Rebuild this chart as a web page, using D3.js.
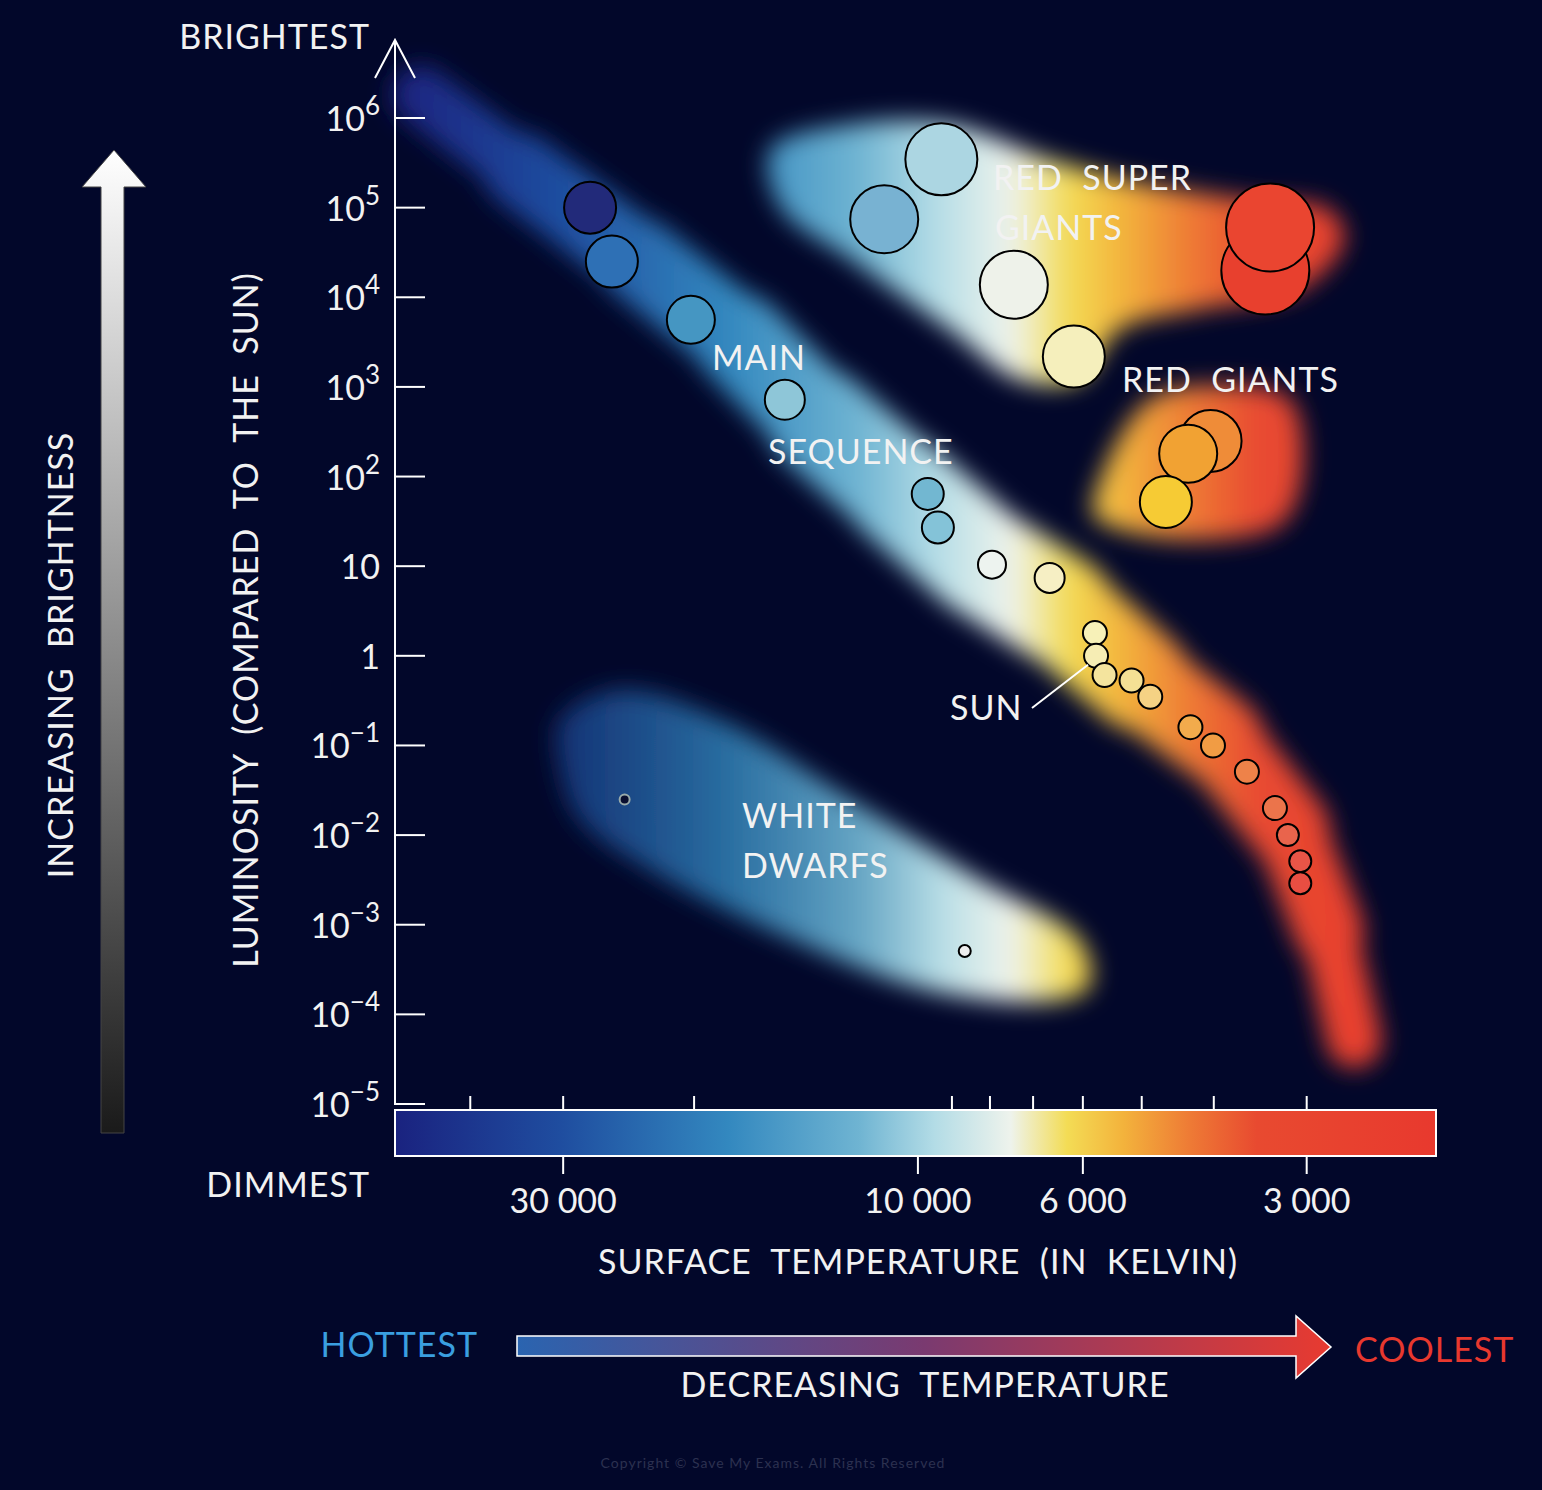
<!DOCTYPE html>
<html>
<head>
<meta charset="utf-8">
<script src="https://cdn.jsdelivr.net/npm/d3@7"></script>
<style>
  body { margin: 0; background: #02072a; }
  svg text { font-family: Lato, "Open Sans", sans-serif; fill: #f2f2f2; }
</style>
</head>
<body>
<svg id="chart" width="1542" height="1490"></svg>
<script>
// luminosity ticks (exponent of 10)
const lumTicks = [6, 5, 4, 3, 2, 1, 0, -1, -2, -3, -4, -5];
// temperature ticks
const tempMajor = [30000, 10000, 6000, 3000];
const tempMinor = [40000, 30000, 20000, 9000, 8000, 7000, 6000, 5000, 4000, 3000];
const tempLabels = ["30 000", "10 000", "6 000", "3 000"];

// colour of star light by temperature
const colourTemps = [50000, 30000, 18000, 12000, 9500, 7500, 6300, 5300, 4300, 3500, 2000];
const colourStops = ["#1a2380", "#1f4ea0", "#3388bf", "#6fb4d2", "#b3dce6", "#eef3ec", "#f3dc55", "#f3b33c", "#ee7a35", "#e84a30", "#e8392e"];

// stars: temperature (K), luminosity (L sun), radius (px), fill
const starTemp = [27600, 25800, 20200, 15100, 9700, 9400, 7950, 6650, 5780, 5760, 5610, 5160, 4870, 4300, 4010, 3610, 3310, 3180, 3060, 3060,
  11100, 9300, 7430, 6170, 3410, 3360, 4040, 4330, 4640, 24800, 8650];
const starLum = [1e5, 25000, 5600, 720, 64, 27, 10.4, 7.4, 1.8, 1, 0.61, 0.53, 0.35, 0.16, 0.1, 0.051, 0.02, 0.01, 0.0051, 0.0029,
  74000, 346000, 13800, 2180, 19900, 60000, 250, 180, 52, 0.025, 5.1e-4];
const starR = [26, 26, 24, 20, 16, 16, 14, 15, 12, 12, 12, 12, 12, 12, 12, 12, 12, 11, 11, 11,
  34, 36, 34, 31, 44, 44, 31, 29, 26, 5, 6];
const starFill = ["#222a7a", "#2e70b5", "#4596c2", "#8ec6d8", "#72b7d1", "#84c3d8", "#edf3ef", "#f6efc4", "#f7f1b8", "#f6edb4", "#f4e49e", "#f4e094", "#f5d284", "#f2ab4c", "#f19c44", "#ee8249", "#eb744b", "#e9644c", "#e85547", "#e84e42",
  "#78b2d2", "#acd6e2", "#eef2ea", "#f5efbc", "#e8402e", "#ea4530", "#ef8c38", "#f1a233", "#f6cb34", "#0a0f30", "#eeeeee"];

// main sequence band: centre line (K, log10 L) and width
const msTemp = [46700, 34300, 23700, 17400, 13600, 10600, 8260, 6440, 5030, 3930, 3160, 2800, 2590];
const msLogL = [6.26, 5.42, 4.42, 3.53, 2.63, 1.85, 1.07, 0.51, -0.27, -0.94, -1.94, -3.06, -4.29];
const msWidth = [45, 70, 80, 85, 100, 110, 110, 110, 95, 85, 75, 65, 45];

// regions (outline in K, log10 L)
const sgTemp = [15800, 12300, 9060, 6660, 4880, 3580, 2800, 2670, 3070, 4180, 5350, 6060, 7300, 9060, 12300, 15300];
const sgLogL = [5.65, 5.93, 5.93, 5.54, 5.26, 5.09, 4.98, 4.64, 4.08, 3.86, 3.64, 3.08, 3.08, 3.64, 4.42, 5.0];
const rgTemp = [5690, 4880, 3930, 3160, 3050, 3260, 4180, 5350, 5800];
const rgLogL = [1.96, 2.86, 3.02, 2.86, 1.96, 1.46, 1.29, 1.41, 1.57];
const wdTemp = [30300, 25200, 18500, 12300, 8260, 6060, 5870, 6440, 9640, 15800, 22900, 28500, 30300];
const wdLogL = [-0.71, -0.38, -0.71, -1.61, -2.5, -3.17, -3.67, -3.84, -3.73, -3.06, -2.39, -1.83, -1.27];

const svg = d3.select("#chart");
const x = d3.scaleLog().domain([50500, 2010]).range([395, 1436]);
const y = d3.scaleLog().domain([1e-5, 1e6]).range([1104, 118]);
const ly = v => y(Math.pow(10, v));

svg.append("rect").attr("width", 1542).attr("height", 1490).attr("fill", "#02072a");

const defs = svg.append("defs");
const tempGrad = defs.append("linearGradient").attr("id", "tempGrad")
  .attr("gradientUnits", "userSpaceOnUse")
  .attr("x1", x(50500)).attr("x2", x(2010)).attr("y1", 0).attr("y2", 0);
colourTemps.forEach((t, i) => tempGrad.append("stop")
  .attr("offset", (x(t) - x(50500)) / (x(2010) - x(50500))).attr("stop-color", colourStops[i]));
defs.append("filter").attr("id", "blur").attr("x", "-20%").attr("y", "-20%").attr("width", "140%").attr("height", "140%")
  .append("feGaussianBlur").attr("stdDeviation", 12);
// fade for hot end of the white dwarf cloud
const fade = defs.append("linearGradient").attr("id", "fade")
  .attr("gradientUnits", "userSpaceOnUse")
  .attr("x1", x(30300)).attr("x2", x(9000)).attr("y1", 0).attr("y2", 0);
fade.append("stop").attr("offset", 0).attr("stop-color", "#02072a").attr("stop-opacity", 0.35);
fade.append("stop").attr("offset", 1).attr("stop-color", "#02072a").attr("stop-opacity", 0);

// glow regions
const glow = svg.append("g").attr("filter", "url(#blur)");
const line = d3.line().curve(d3.curveCatmullRomClosed);
[[sgTemp, sgLogL], [rgTemp, rgLogL], [wdTemp, wdLogL]].forEach(([ts, ls]) => {
  glow.append("path")
    .attr("d", line(ts.map((t, i) => [x(t), ly(ls[i])])))
    .attr("fill", "url(#tempGrad)");
});
glow.append("path")
  .attr("d", line(wdTemp.map((t, i) => [x(t), ly(wdLogL[i])])))
  .attr("fill", "url(#fade)");
for (let i = 0; i < msTemp.length - 1; i++) {
  glow.append("line")
    .attr("x1", x(msTemp[i])).attr("y1", ly(msLogL[i]))
    .attr("x2", x(msTemp[i + 1])).attr("y2", ly(msLogL[i + 1]))
    .attr("stroke", "url(#tempGrad)").attr("stroke-linecap", "round")
    .attr("stroke-width", (msWidth[i] + msWidth[i + 1]) / 2);
}

// stars
svg.append("g").selectAll("circle")
  .data(starTemp.map((t, i) => ({ t, l: starLum[i], r: starR[i], c: starFill[i] })))
  .join("circle")
  .attr("cx", d => x(d.t)).attr("cy", d => y(d.l)).attr("r", d => d.r)
  .attr("fill", d => d.c).attr("stroke", d => d.r < 6 && d.c === "#0a0f30" ? "#9aa" : "#000")
  .attr("stroke-width", 2);

// colour bar
svg.append("rect").attr("x", 395).attr("y", 1110).attr("width", 1041).attr("height", 46)
  .attr("fill", "url(#tempGrad)").attr("stroke", "#fff").attr("stroke-width", 2);
svg.append("g").selectAll("line").data(tempMinor).join("line")
  .attr("x1", d => x(d)).attr("x2", d => x(d)).attr("y1", 1110)
  .attr("y2", d => d === 10000 ? 1080 : 1096)
  .attr("stroke", "#fff").attr("stroke-width", 2);
svg.append("g").selectAll("line").data(tempMajor).join("line")
  .attr("x1", d => x(d)).attr("x2", d => x(d)).attr("y1", 1156).attr("y2", 1174)
  .attr("stroke", "#fff").attr("stroke-width", 2);
svg.append("g").selectAll("text").data(tempMajor).join("text")
  .attr("x", d => x(d)).attr("y", 1213).attr("text-anchor", "middle")
  .attr("font-size", 34).text((d, i) => tempLabels[i]);

// y axis
svg.append("line").attr("x1", 395).attr("x2", 395).attr("y1", 42).attr("y2", 1105)
  .attr("stroke", "#fff").attr("stroke-width", 2);
svg.append("path").attr("d", "M375,78 L395,40 L415,78").attr("fill", "none")
  .attr("stroke", "#fff").attr("stroke-width", 2);
const yt = svg.append("g").selectAll("g").data(lumTicks).join("g")
  .attr("transform", d => `translate(0,${ly(d)})`);
yt.append("line").attr("x1", 395).attr("x2", 425).attr("stroke", "#fff").attr("stroke-width", 2);
yt.each(function (d) {
  const t = d3.select(this).append("text").attr("x", 380).attr("y", 13)
    .attr("text-anchor", "end").attr("font-size", 34);
  if (d === 0) t.text("1");
  else if (d === 1) t.text("10");
  else {
    t.append("tspan").text("10");
    t.append("tspan").attr("dy", -16).attr("font-size", 26).text(d < 0 ? "\u2212" + (-d) : d);
  }
});

// axis titles
const label = (txt, px, py, size, opts = {}) => svg.append("text")
  .attr("x", px).attr("y", py).attr("font-size", size)
  .attr("text-anchor", opts.anchor || "start")
  .attr("transform", opts.rotate ? `rotate(-90,${px},${py})` : null)
  .style("fill", opts.fill || null).style("white-space", "pre")
  .attr("letter-spacing", opts.ls || 1).text(txt);
label("BRIGHTEST", 370, 49, 34, { anchor: "end" });
label("DIMMEST", 370, 1197, 34, { anchor: "end" });
label("LUMINOSITY  (COMPARED  TO  THE  SUN)", 258, 620, 34, { anchor: "middle", rotate: true });
label("INCREASING  BRIGHTNESS", 73, 655, 34, { anchor: "middle", rotate: true });
label("SURFACE  TEMPERATURE  (IN  KELVIN)", 918, 1274, 34, { anchor: "middle" });
label("DECREASING  TEMPERATURE", 925, 1397, 34, { anchor: "middle" });
label("HOTTEST", 478, 1357, 34, { anchor: "end", fill: "#3a9fe0" });
label("COOLEST", 1355, 1362, 34, { fill: "#e8382e" });
label("Copyright \u00a9 Save My Exams. All Rights Reserved", 773, 1468, 14, { anchor: "middle", fill: "#2c3150", ls: 0 });

// region labels
label("RED  SUPER", 993, 190, 34);
label("GIANTS", 995, 240, 34);
label("MAIN", 712, 370, 34);
label("SEQUENCE", 768, 464, 34);
label("RED  GIANTS", 1122, 392, 34);
label("WHITE", 742, 828, 34);
label("DWARFS", 742, 878, 34);
label("SUN", 950, 720, 34);
svg.append("line").attr("x1", 1032).attr("y1", 708).attr("x2", x(5760) - 8).attr("y2", y(1) + 9)
  .attr("stroke", "#fff").attr("stroke-width", 2);

// brightness arrow
const vg = defs.append("linearGradient").attr("id", "vGrad").attr("x1", 0).attr("x2", 0).attr("y1", 0).attr("y2", 1);
vg.append("stop").attr("offset", 0).attr("stop-color", "#ffffff");
vg.append("stop").attr("offset", 1).attr("stop-color", "#1a1a1a");
svg.append("path").attr("d", "M101,1133 L101,187 L82,187 L114,150 L146,187 L124,187 L124,1133 Z")
  .attr("fill", "url(#vGrad)").attr("stroke", "#444").attr("stroke-width", 1);

// temperature arrow
const hg = defs.append("linearGradient").attr("id", "hGrad");
hg.append("stop").attr("offset", 0).attr("stop-color", "#2a64b0");
hg.append("stop").attr("offset", 0.5).attr("stop-color", "#7a3a70");
hg.append("stop").attr("offset", 1).attr("stop-color", "#e83a30");
svg.append("path").attr("d", "M517,1336 L1296,1336 L1296,1316 L1331,1347 L1296,1378 L1296,1356 L517,1356 Z")
  .attr("fill", "url(#hGrad)").attr("stroke", "#fff").attr("stroke-width", 1.5);
</script>
</body>
</html>
